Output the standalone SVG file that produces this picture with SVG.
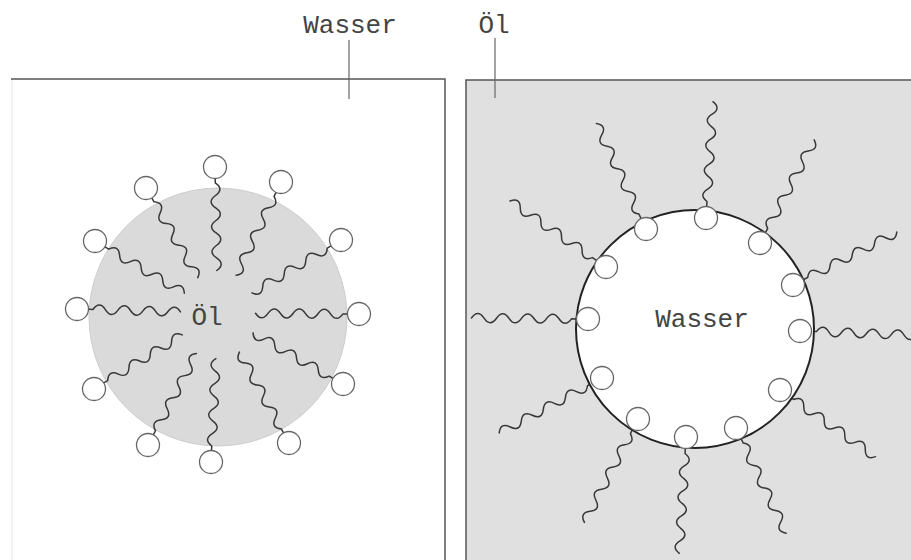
<svg xmlns="http://www.w3.org/2000/svg" xmlns:xlink="http://www.w3.org/1999/xlink" width="911" height="560" viewBox="0 0 911 560">
  <style>
    .lbl { font-family: "Liberation Mono", "DejaVu Sans Mono", monospace; font-size: 26px; fill: #444; text-anchor: middle; }
    .frame { fill: none; stroke: #555; stroke-width: 1.5; }
    .tail { fill: none; stroke: #383838; stroke-width: 1.5; stroke-linecap: round; }
    .head { fill: #fff; stroke: #666; stroke-width: 1.3; }
    .lead { stroke: #666; stroke-width: 1.2; }
  </style>
  <defs>
    <!-- hydrocarbon tail, starting at the edge of a head of radius ~12 -->
    <path id="tailIn" d="M12 0l4 0q6.25 -9 12.5 0t12.5 0t12.5 0t12.5 0t12.5 0t12.5 0t12.5 0"/>
    <path id="tailOut" d="M11.5 0l5 0q6.25 -9 12.5 0t12.5 0t12.5 0t12.5 0t12.5 0t12.5 0t12.5 0t12.5 0"/>
  </defs>

  <rect width="911" height="560" fill="#fff"/>

  <!-- left panel: micelle in water -->
  <g id="panel-water">
    <line x1="12" y1="80" x2="12" y2="560" stroke="#ececec" stroke-width="1.5"/>
    <polyline class="frame" points="11,79 445,79 445,560"/>
  </g>

  <!-- right panel: reverse micelle in oil -->
  <g id="panel-oil">
    <rect x="466" y="80" width="445" height="480" fill="#e0e0e0"/>
    <polyline class="frame" points="466,560 466,80 911,80"/>
  </g>

  <g id="micelle">
    <circle cx="218" cy="317" r="129" fill="#dadada" stroke="#cdcdcd" stroke-width="1"/>
    <g class="tail">
      <use xlink:href="#tailIn" transform="translate(215 167) rotate(89)"/>
      <use xlink:href="#tailIn" transform="translate(281 182) rotate(115.7)"/>
      <use xlink:href="#tailIn" transform="translate(341 240) rotate(149.3)"/>
      <use xlink:href="#tailIn" transform="translate(359 314) rotate(180.4)"/>
      <use xlink:href="#tailIn" transform="translate(343 384) rotate(209.6)"/>
      <use xlink:href="#tailIn" transform="translate(289 443) rotate(241.4)"/>
      <use xlink:href="#tailIn" transform="translate(211 462) rotate(272.7)"/>
      <use xlink:href="#tailIn" transform="translate(148 445) rotate(297.9)"/>
      <use xlink:href="#tailIn" transform="translate(94 389) rotate(328.5)"/>
      <use xlink:href="#tailIn" transform="translate(77 309) rotate(1.6)"/>
      <use xlink:href="#tailIn" transform="translate(95 241) rotate(30.3)"/>
      <use xlink:href="#tailIn" transform="translate(146 188) rotate(60)"/>
    </g>
    <g class="head">
      <circle cx="215" cy="167" r="11.5"/>
      <circle cx="281" cy="182" r="11.5"/>
      <circle cx="341" cy="240" r="11.5"/>
      <circle cx="359" cy="314" r="11.5"/>
      <circle cx="343" cy="384" r="11.5"/>
      <circle cx="289" cy="443" r="11.5"/>
      <circle cx="211" cy="462" r="11.5"/>
      <circle cx="148" cy="445" r="11.5"/>
      <circle cx="94" cy="389" r="11.5"/>
      <circle cx="77" cy="309" r="11.5"/>
      <circle cx="95" cy="241" r="11.5"/>
      <circle cx="146" cy="188" r="11.5"/>
    </g>
    <text class="lbl" x="207" y="325">Öl</text>
  </g>

  <g id="reverse-micelle">
    <g class="tail">
      <use xlink:href="#tailOut" transform="translate(706 218) rotate(-86.6)"/>
      <use xlink:href="#tailOut" transform="translate(760 243) rotate(-62.3)"/>
      <use xlink:href="#tailOut" transform="translate(793 285) rotate(-27)"/>
      <use xlink:href="#tailOut" transform="translate(800 331) rotate(2.1)"/>
      <use xlink:href="#tailOut" transform="translate(780 390) rotate(34.9)"/>
      <use xlink:href="#tailOut" transform="translate(736 428) rotate(64.5)"/>
      <use xlink:href="#tailOut" transform="translate(686 437) rotate(93.3)"/>
      <use xlink:href="#tailOut" transform="translate(638 419) rotate(117.4)"/>
      <use xlink:href="#tailOut" transform="translate(602 378) rotate(151.9)"/>
      <use xlink:href="#tailOut" transform="translate(588 319) rotate(180.5)"/>
      <use xlink:href="#tailOut" transform="translate(606 267) rotate(-145.5)"/>
      <use xlink:href="#tailOut" transform="translate(646 229) rotate(-115.2)"/>
    </g>
    <circle cx="695" cy="329" r="119" fill="#fff" stroke="#222" stroke-width="2"/>
    <g class="head">
      <circle cx="706" cy="218" r="11.5"/>
      <circle cx="760" cy="243" r="11.5"/>
      <circle cx="793" cy="285" r="11.5"/>
      <circle cx="800" cy="331" r="11.5"/>
      <circle cx="780" cy="390" r="11.5"/>
      <circle cx="736" cy="428" r="11.5"/>
      <circle cx="686" cy="437" r="11.5"/>
      <circle cx="638" cy="419" r="11.5"/>
      <circle cx="602" cy="378" r="11.5"/>
      <circle cx="588" cy="319" r="11.5"/>
      <circle cx="606" cy="267" r="11.5"/>
      <circle cx="646" cy="229" r="11.5"/>
    </g>
    <text class="lbl" x="702" y="327">Wasser</text>
  </g>

  <g id="label-water">
    <text class="lbl" x="350" y="33">Wasser</text>
  </g>
  <g id="label-oil">
    <text class="lbl" x="494" y="33">Öl</text>
  </g>

  <!-- leader lines from the labels into the panels -->
  <g id="connectors" class="lead">
    <line x1="349" y1="40" x2="349" y2="99"/>
    <line x1="495" y1="38" x2="495" y2="98"/>
  </g>
</svg>
